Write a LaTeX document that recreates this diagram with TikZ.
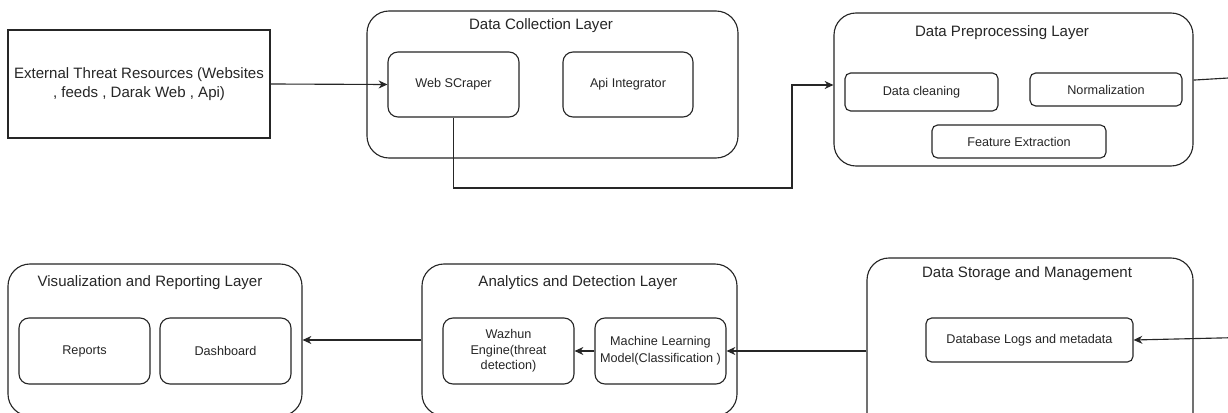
\documentclass[tikz,border=0pt]{standalone}
\usepackage{fontspec}
\setmainfont{Liberation Sans}
\usetikzlibrary{arrows.meta, positioning}

\begin{document}
\begin{tikzpicture}[
  x=0.025cm, y=-0.025cm,
  line width=0.8pt, color=black!85,
  boxsize/.style 2 args={minimum width=#1*0.025cm, minimum height=#2*0.025cm},
  source/.style={draw, inner sep=0pt, align=center, font=\fontsize{10.7}{13.5}\selectfont},
  layer/.style={draw, rounded corners=5.5mm, inner sep=0pt},
  part/.style={draw, rounded corners=2.5mm, align=center, inner sep=0pt, font=\fontsize{9}{11}\selectfont},
  slim/.style={part, rounded corners=1.4mm},
  title/.style={font=\fontsize{10.7}{12.8}\selectfont},
  arrow/.style={-{Stealth[length=2.2mm, width=2mm]}},
]
  \useasboundingbox[fill=white] (0,0) rectangle (1228,413);

  % top row
  \node[source, boxsize={262}{108}] (ext) at (139,84) {External Threat Resources (Websites\\, feeds , Darak Web , Api)};

  \node[layer, boxsize={371}{147}] (coll) at (552.5,84.5) {};
  \node[title] (colltitle) at (541,26) {Data Collection Layer};
  \node[part, boxsize={131}{65}] (scraper) at (453.5,84.5) {Web SCraper};
  \node[part, boxsize={130}{65}] (api) at (628,84.5) {Api Integrator};

  \node[layer, boxsize={359}{153}] (prep) at (1013.5,89.5) {};
  \node[title] (preptitle) at (1002,33) {Data Preprocessing Layer};
  \node[slim, boxsize={153}{38}] (clean) at (921.5,92) {Data cleaning};
  \node[slim, boxsize={152}{33}] (norm) at (1106,89.5) {Normalization};
  \node[slim, boxsize={174}{33}] (feat) at (1019,141.5) {Feature Extraction};

  % bottom row
  \node[layer, boxsize={294}{152}] (vis) at (155,340) {};
  \node[title] (vistitle) at (150,283) {Visualization and Reporting Layer};
  \node[part, boxsize={131}{66}] (reports) at (84.5,351) {Reports};
  \node[part, boxsize={131}{66}] (dash) at (225.5,351) {Dashboard};

  \node[layer, boxsize={315}{152}] (ana) at (579.5,340) {};
  \node[title] (anatitle) at (578,283) {Analytics and Detection Layer};
  \node[part, boxsize={131}{66}] (wazhun) at (508.5,351) {Wazhun\\Engine(threat\\detection)};
  \node[part, boxsize={131}{66}, font=\fontsize{9}{11.8}\selectfont] (ml) at (660.5,351) {Machine Learning\\Model(Classification )};

  \node[layer, boxsize={326}{186}] (store) at (1030,351) {};
  \node[title] (storetitle) at (1027,274) {Data Storage and Management};
  \node[slim, boxsize={207}{44}] (db) at (1029.5,340) {Database Logs and metadata};

  % connectors
  \coordinate (turn) at (792,188);
  \coordinate (offr) at (1262,76);
  \coordinate (offd) at (1262,337);
  \draw[arrow] (ext.east) -- (scraper.west);
  \draw[arrow] (scraper.south) |- (turn) |- ([yshift=3.2pt]prep.west);
  \draw[arrow] ([yshift=6.7pt]prep.east) -- (offr) -- (offd) -- (db.east);
  \draw[arrow] (store.west) -- (ml.east);
  \draw[arrow] (ml.west) -- (wazhun.east);
  \draw[arrow] (ana.west) -- (vis.east);
\end{tikzpicture}
\end{document}
